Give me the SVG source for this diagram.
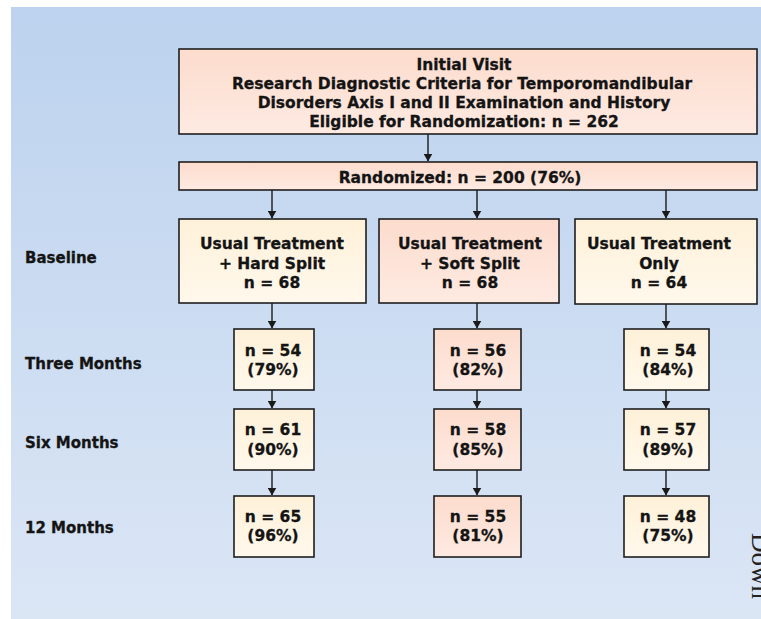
<svg xmlns="http://www.w3.org/2000/svg" width="761" height="619" viewBox="0 0 761 619">
<defs>
<linearGradient id="bg" x1="0" y1="0" x2="0" y2="1">
<stop offset="0" stop-color="#bcd2ee"/>
<stop offset="1" stop-color="#dbe6f5"/>
</linearGradient>
<linearGradient id="peach" x1="0" y1="0" x2="0" y2="1">
<stop offset="0" stop-color="#fcdccd"/>
<stop offset="1" stop-color="#feeae2"/>
</linearGradient>
<linearGradient id="cream" x1="0" y1="0" x2="0" y2="1">
<stop offset="0" stop-color="#fef1d9"/>
<stop offset="1" stop-color="#fff8ec"/>
</linearGradient>
<marker id="ah" markerWidth="8" markerHeight="9" refX="7.5" refY="4.5" orient="auto" markerUnits="userSpaceOnUse">
<path d="M0,0 L8,4.5 L0,9 Z" fill="#1a1a1a"/>
</marker>
<style>
.box{stroke:#1e1e1e;stroke-width:1.6}
.p{fill:url(#peach)}
.c{fill:url(#cream)}
.t{font-family:"DejaVu Sans",sans-serif;font-weight:bold;font-size:15.5px;fill:#141414;stroke:#141414;stroke-width:0.3px;text-anchor:middle}
.lbl{font-family:"DejaVu Sans",sans-serif;font-weight:bold;font-size:15px;fill:#141414;stroke:#141414;stroke-width:0.3px}
.con line{stroke:#1a1a1a;stroke-width:1.4;marker-end:url(#ah)}
</style>
</defs>
<rect x="0" y="0" width="761" height="619" fill="#ffffff"/>
<rect x="11" y="7" width="750" height="612" fill="url(#bg)"/>

<g id="labels">
<text class="lbl" x="25" y="263">Baseline</text>
<text class="lbl" x="25" y="369">Three Months</text>
<text class="lbl" x="25" y="448">Six Months</text>
<text class="lbl" x="25" y="533">12 Months</text>
</g>

<g id="initial-visit">
<rect class="box p" x="179" y="49" width="578" height="85"/>
<text class="t" x="464" y="70">Initial Visit</text>
<text class="t" x="462" y="89">Research Diagnostic Criteria for Temporomandibular</text>
<text class="t" x="464" y="108">Disorders Axis I and II Examination and History</text>
<text class="t" x="464" y="127">Eligible for Randomization: n = 262</text>
</g>

<g id="randomized">
<rect class="box p" x="179" y="162" width="578" height="28"/>
<text class="t" x="460" y="183">Randomized: n = 200 (76%)</text>
</g>

<g id="hard-splint">
<rect class="box c" x="179" y="219" width="187" height="84"/>
<text class="t" x="272" y="249">Usual Treatment</text>
<text class="t" x="272" y="269">+ Hard Split</text>
<text class="t" x="272" y="288">n = 68</text>
</g>
<g id="soft-splint">
<rect class="box p" x="379" y="219" width="180" height="84"/>
<text class="t" x="470" y="249">Usual Treatment</text>
<text class="t" x="470" y="269">+ Soft Split</text>
<text class="t" x="470" y="288">n = 68</text>
</g>
<g id="usual-only">
<rect class="box c" x="575" y="219" width="182" height="85"/>
<text class="t" x="659" y="249">Usual Treatment</text>
<text class="t" x="659" y="269">Only</text>
<text class="t" x="659" y="288">n = 64</text>
</g>

<g id="hard-3m">
<rect class="box c" x="234" y="329" width="80" height="61"/>
<text class="t" x="273" y="356">n = 54</text>
<text class="t" x="273" y="375">(79%)</text>
</g>
<g id="hard-6m">
<rect class="box c" x="234" y="409" width="80" height="61"/>
<text class="t" x="273" y="435">n = 61</text>
<text class="t" x="273" y="455">(90%)</text>
</g>
<g id="hard-12m">
<rect class="box c" x="234" y="496" width="80" height="61"/>
<text class="t" x="273" y="522">n = 65</text>
<text class="t" x="273" y="541">(96%)</text>
</g>

<g id="soft-3m">
<rect class="box p" x="434" y="329" width="87" height="61"/>
<text class="t" x="478" y="356">n = 56</text>
<text class="t" x="478" y="375">(82%)</text>
</g>
<g id="soft-6m">
<rect class="box p" x="434" y="409" width="87" height="61"/>
<text class="t" x="478" y="435">n = 58</text>
<text class="t" x="478" y="455">(85%)</text>
</g>
<g id="soft-12m">
<rect class="box p" x="434" y="496" width="87" height="61"/>
<text class="t" x="478" y="522">n = 55</text>
<text class="t" x="478" y="541">(81%)</text>
</g>

<g id="only-3m">
<rect class="box c" x="624" y="329" width="85" height="61"/>
<text class="t" x="668" y="356">n = 54</text>
<text class="t" x="668" y="375">(84%)</text>
</g>
<g id="only-6m">
<rect class="box c" x="624" y="409" width="85" height="61"/>
<text class="t" x="668" y="435">n = 57</text>
<text class="t" x="668" y="455">(89%)</text>
</g>
<g id="only-12m">
<rect class="box c" x="624" y="496" width="85" height="61"/>
<text class="t" x="668" y="522">n = 48</text>
<text class="t" x="668" y="541">(75%)</text>
</g>

<g id="connectors" class="con">
<line x1="428" y1="134" x2="428" y2="161"/>
<line x1="272" y1="190" x2="272" y2="218"/>
<line x1="477" y1="190" x2="477" y2="218"/>
<line x1="666" y1="190" x2="666" y2="218"/>
<line x1="272" y1="303" x2="272" y2="328"/>
<line x1="272" y1="390" x2="272" y2="408"/>
<line x1="272" y1="470" x2="272" y2="495"/>
<line x1="477" y1="303" x2="477" y2="328"/>
<line x1="477" y1="390" x2="477" y2="408"/>
<line x1="477" y1="470" x2="477" y2="495"/>
<line x1="666" y1="304" x2="666" y2="328"/>
<line x1="666" y1="390" x2="666" y2="408"/>
<line x1="666" y1="470" x2="666" y2="495"/>
</g>

<text x="752" y="533" transform="rotate(90 752 533)" font-family="Liberation Serif, serif" font-size="27" fill="#222222">Down</text>
</svg>
